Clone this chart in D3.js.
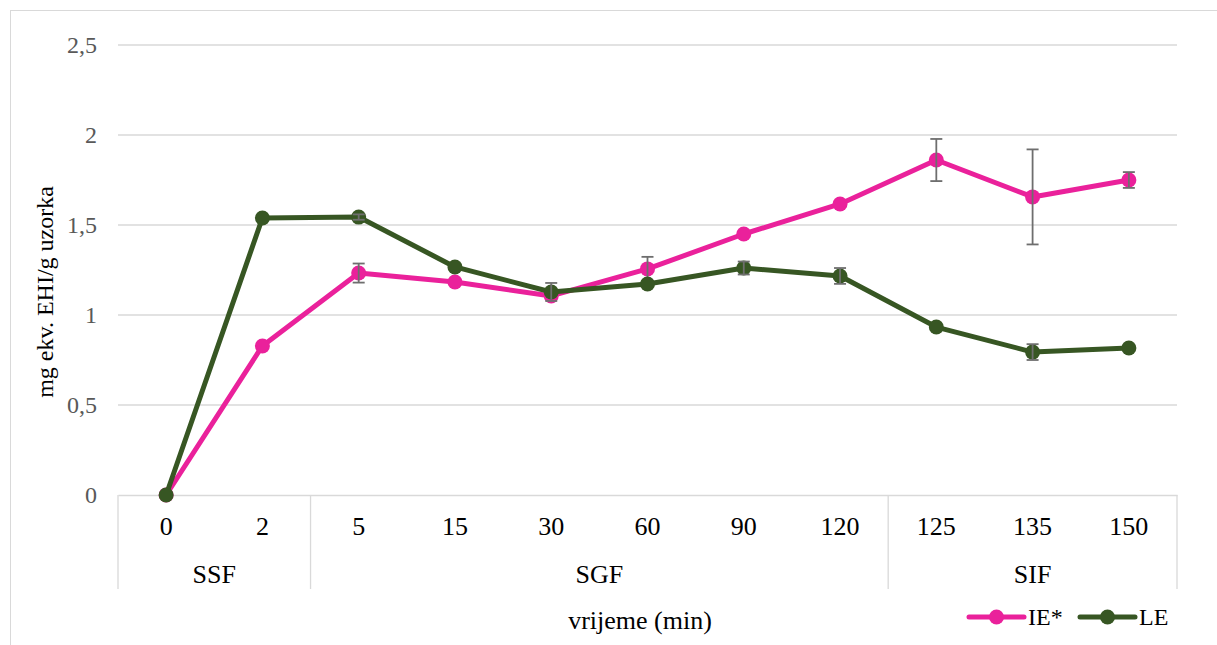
<!DOCTYPE html>
<html><head><meta charset="utf-8">
<script src="https://cdn.jsdelivr.net/npm/d3@7"></script>
<style>body{margin:0;background:#fff}svg{display:block}
svg text{font-family:"Liberation Serif","Times New Roman","DejaVu Serif",serif !important;}</style>
</head><body>
<script>
const categories = ["0","2","5","15","30","60","90","120","125","135","150"];
const groups = [{name:"SSF", from:0, to:1},{name:"SGF", from:2, to:7},{name:"SIF", from:8, to:10}];
const ieValues = [0,0.828,1.233,1.183,1.106,1.256,1.45,1.617,1.861,1.656,1.75];
const ieErrors = [0,0,0.053,0,0,0.067,0,0,0.117,0.264,0.044];
const leValues = [0,1.539,1.544,1.267,1.128,1.172,1.261,1.217,0.933,0.794,0.817];
const leErrors = [0,0,0.015,0,0.05,0,0.036,0.044,0,0.044,0];
const yTicks = [0,0.5,1,1.5,2,2.5];
const seriesNames = ["IE*","LE"];
const colors = ["#EA219B","#375623"];

const W=1217,H=645;
const svg=d3.select("body").append("svg").attr("width",W).attr("height",H);
svg.append("rect").attr("x",10.5).attr("y",10.5).attr("width",1300).attr("height",700).attr("fill","none").attr("stroke","#d9d9d9");

const x=d3.scaleBand().domain(categories).range([118,1177]);
const y=d3.scaleLinear().domain([0,2.5]).range([495,45]);

// gridlines
svg.append("g").selectAll("line").data(yTicks.filter(d=>d>0)).join("line")
 .attr("x1",118).attr("x2",1177).attr("y1",d=>y(d)).attr("y2",d=>y(d))
 .attr("stroke","#d9d9d9").attr("stroke-width",1.3);

// y axis
const yAxis=d3.axisLeft(y).tickValues(yTicks).tickSize(0).tickPadding(21)
 .tickFormat(d=>String(d).replace(".",","));
const gy=svg.append("g").attr("transform","translate(118,0)").call(yAxis);
gy.select(".domain").remove();
gy.selectAll("text").attr("font-size",24).attr("fill","#595959");

// x axis
const gx=svg.append("g").attr("transform","translate(0,495)").call(d3.axisBottom(x).tickSize(0).tickPadding(22));
gx.select(".domain").attr("stroke","#d9d9d9").attr("stroke-width",1.3);
gx.selectAll("text").attr("font-size",26).attr("fill","#000");

// group separators and labels
const bounds=[0,2,8,11];
svg.append("g").selectAll("line").data(bounds).join("line")
 .attr("x1",d=>d<11?x(categories[d]):x(categories[10])+x.bandwidth())
 .attr("x2",d=>d<11?x(categories[d]):x(categories[10])+x.bandwidth())
 .attr("y1",495).attr("y2",589).attr("stroke","#d9d9d9").attr("stroke-width",1.3);
svg.append("g").selectAll("text").data(groups).join("text")
 .attr("x",g=>(x(categories[g.from])+x(categories[g.to])+x.bandwidth())/2)
 .attr("y",583).attr("text-anchor","middle").attr("font-size",26)
 .text(g=>g.name);

// axis titles
svg.append("text").attr("transform","translate(53,292) rotate(-90)").attr("text-anchor","middle")
 .attr("font-size",24).text("mg ekv. EHI/g uzorka");
svg.append("text").attr("x",640).attr("y",629).attr("text-anchor","middle")
 .attr("font-size",26).text("vrijeme (min)");

const cx=d=>x(d)+x.bandwidth()/2;
const series=[{vals:ieValues,errs:ieErrors,color:colors[0]},{vals:leValues,errs:leErrors,color:colors[1]}];
const line=d3.line().x(d=>cx(d.c)).y(d=>y(d.v));
series.forEach(s=>{
  const pts=categories.map((c,i)=>({c,v:s.vals[i],e:s.errs[i]}));
  svg.append("path").datum(pts).attr("d",line).attr("fill","none").attr("stroke",s.color).attr("stroke-width",5).attr("stroke-linejoin","round");
  svg.append("g").selectAll("circle").data(pts).join("circle").attr("cx",d=>cx(d.c)).attr("cy",d=>y(d.v)).attr("r",7.5).attr("fill",s.color);
  const eb=svg.append("g").attr("stroke","#6e6e6e").attr("stroke-width",1.8);
  pts.filter(d=>d.e>0).forEach(d=>{
    eb.append("line").attr("x1",cx(d.c)).attr("x2",cx(d.c)).attr("y1",y(d.v+d.e)).attr("y2",y(d.v-d.e));
    eb.append("line").attr("x1",cx(d.c)-6).attr("x2",cx(d.c)+6).attr("y1",y(d.v+d.e)).attr("y2",y(d.v+d.e));
    eb.append("line").attr("x1",cx(d.c)-6).attr("x2",cx(d.c)+6).attr("y1",y(d.v-d.e)).attr("y2",y(d.v-d.e));
  });
});

// legend
const legX=[969,1080];
seriesNames.forEach((n,i)=>{
  const g=svg.append("g");
  g.append("line").attr("x1",legX[i]).attr("x2",legX[i]+55).attr("y1",617).attr("y2",617).attr("stroke",colors[i]).attr("stroke-width",5).attr("stroke-linecap","round");
  g.append("circle").attr("cx",legX[i]+27.5).attr("cy",617).attr("r",7.5).attr("fill",colors[i]);
  g.append("text").attr("x",legX[i]+59).attr("y",625).attr("font-size",24).text(n);
});
</script>
</body></html>
